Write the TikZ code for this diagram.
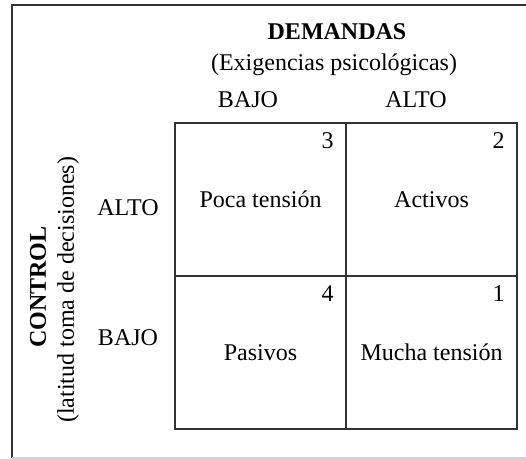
\documentclass[tikz,border=0pt]{standalone}
\usepackage{fontspec}
\setmainfont{Liberation Serif}
\usetikzlibrary{matrix}
\tikzset{
  txt/.style={font=\fontsize{12}{14}\selectfont, inner sep=1pt},
  num/.style={txt, anchor=north east, inner xsep=6.5pt, inner ysep=5pt},
  marco/.style={line width=1pt, draw=black!80}
}

\begin{document}
\begin{tikzpicture}[x=1pt,y=-1pt]
			\useasboundingbox (0,0) rectangle (263,229.5);
			% outer frame
			\coordinate (fa) at (5.75,2.75);
			\coordinate (fb) at (263,2.75);
			\coordinate (fc) at (5.75,229);
			\coordinate (fd) at (263,229);
			\draw[marco] (fb) -- (fa) -- (fc);
			\draw[line width=0.8pt, black!18] (fc) -- (fd);
			% headings
			\node[txt] (dem) at (168.5,16) {\textbf{DEMANDAS}};
			\node[txt] (exi) at (167,32.5) {(Exigencias psicológicas)};
			\node[txt] (db) at (124,50) {BAJO};
			\node[txt] (da) at (208,50) {ALTO};
			\node[txt, rotate=90] (con) at (19,143.5) {\textbf{CONTROL}};
			\node[txt, rotate=90] (lat) at (34,145) {(latitud toma de decisiones)};
			\node[txt] (ca) at (64,104) {ALTO};
			\node[txt] (cb) at (64,169) {BAJO};
			% quadrants
			\matrix (q) [matrix of nodes, anchor=north west, column sep=-1pt, row sep=-1pt,
				nodes={txt, marco, anchor=center, minimum width=85.5pt, minimum height=76.5pt}] at (83.5,57.5)
			{
				Poca tensión & Activos\\
				Pasivos & Mucha tensión\\
			};
			\node[num] (n3) at (q-1-1.north east) {3};
			\node[num] (n2) at (q-1-2.north east) {2};
			\node[num] (n4) at (q-2-1.north east) {4};
			\node[num] (n1) at (q-2-2.north east) {1};
		\end{tikzpicture}
\end{document}
